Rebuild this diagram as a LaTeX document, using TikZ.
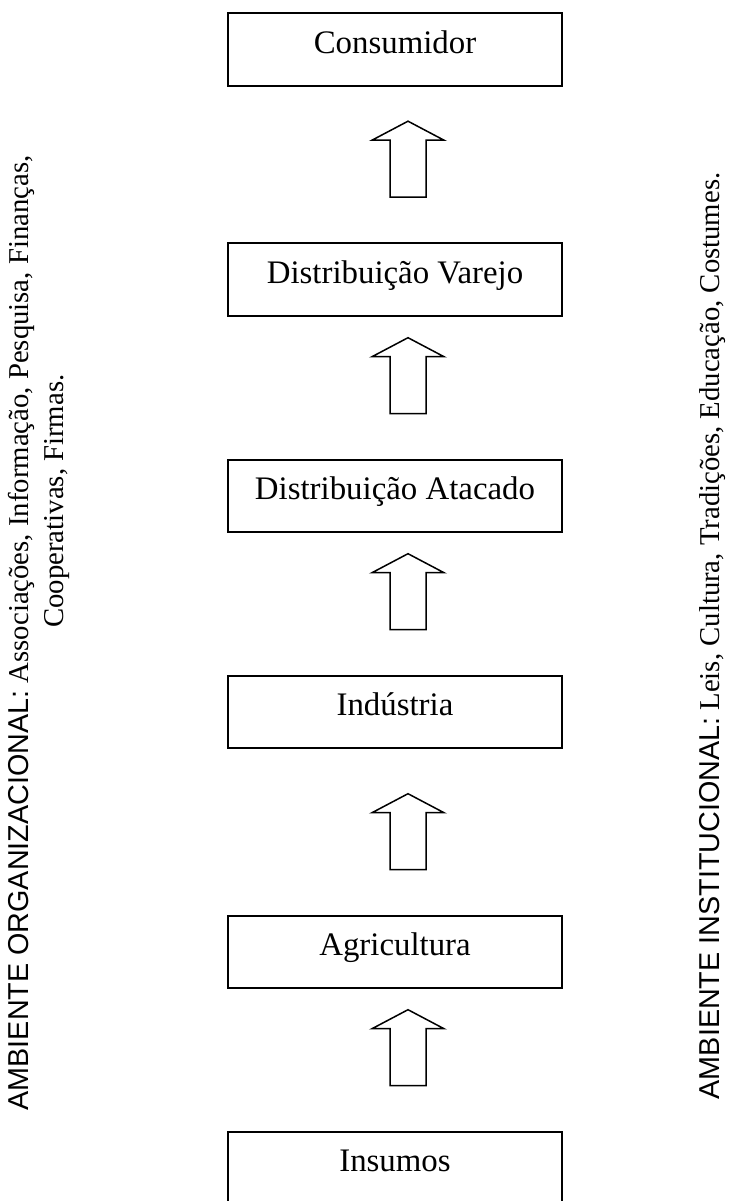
\documentclass[tikz,border=0pt]{standalone}
\usepackage{fontspec}
\setmainfont{Liberation Serif}
\newfontfamily\capsfont{Liberation Sans}
\usetikzlibrary{calc}
\tikzset{
  stage/.style={draw, line width=.75pt, minimum width=122pt, minimum height=26.5pt, inner sep=0pt, text height=8pt, text depth=5.4pt, font=\fontsize{12}{14}\selectfont},
  blockarrow/.style={draw, line width=.55pt, line join=miter},
  ambiente/.style={rotate=90, inner sep=0pt, font=\fontsize{10.5}{12.5}\selectfont}
}

\begin{document}
\begin{tikzpicture}[x=0.3653pt, y=-0.3653pt]
\useasboundingbox (0,0) rectangle (734,1201);
\node[stage] (con) at (395,49.5) {Consumidor};
\node[stage] (var) at (395,279.5) {Distribuição Varejo};
\node[stage] (ata) at (395,496) {Distribuição Atacado};
\node[stage] (ind) at (395,712) {Indústria};
\node[stage] (agr) at (395,952) {Agricultura};
\node[stage] (ins) at (395,1168) {Insumos};
\foreach \a in {ins,agr,ind,ata,var} {
 \draw[blockarrow] ($(\a.north)+(-5,-45)$) --++(0,-57) --++(-18,0) --++(36,-19) --++(36,19) --++(-18,0) --++(0,57) -- cycle;
}
\node[ambiente, anchor=east, align=right] (org) at (39,155) {{\capsfont AMBIENTE ORGANIZACIONAL:} Associações, Informação, Pesquisa, Finanças,\\ Cooperativas, Firmas.\hspace*{80pt}};
\node[ambiente, anchor=east] (inst) at (713,172) {{\capsfont AMBIENTE INSTITUCIONAL:} Leis, Cultura, Tradições, Educação, Costumes.};
\end{tikzpicture}
\end{document}
